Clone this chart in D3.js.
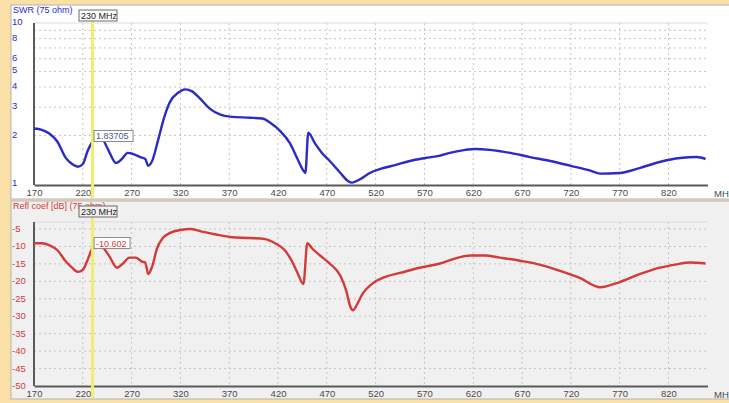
<!DOCTYPE html>
<html>
<head>
<meta charset="utf-8">
<script src="https://cdn.jsdelivr.net/npm/d3@7"></script>
<style>
  html, body { margin: 0; padding: 0; background: #fadfa6; }
  svg { display: block; }
  text { font-family: "Liberation Sans", Arial, sans-serif; }
</style>
</head>
<body>
<svg id="chart" width="729" height="403"></svg>
<script>
// Frequency axis (MHz)
const freqTicks = [170, 220, 270, 320, 370, 420, 470, 520, 570, 620, 670, 720, 770, 820];

// SWR (75 ohm) sweep
const swrFreq = [170, 178, 186, 194, 202, 209, 215, 220, 225, 230, 238, 243, 248, 254, 260, 266, 271, 279, 284, 287, 291, 297, 303, 309, 318, 325, 332, 340, 350, 361, 371, 391, 404, 412, 422, 432, 440, 446, 448, 451, 458, 465, 473, 484, 492, 496, 504, 514, 525, 540, 555, 571, 586, 596, 612, 622, 637, 658, 678, 699, 719, 740, 750, 770, 791, 811, 832, 849, 858];
const swrValue = [2.21, 2.17, 2.05, 1.83, 1.47, 1.33, 1.28, 1.33, 1.61, 1.837, 2.02, 1.78, 1.54, 1.35, 1.43, 1.56, 1.54, 1.47, 1.43, 1.30, 1.39, 1.86, 2.55, 3.21, 3.70, 3.87, 3.76, 3.40, 2.94, 2.70, 2.62, 2.58, 2.55, 2.40, 2.14, 1.80, 1.43, 1.21, 1.17, 2.08, 1.78, 1.56, 1.39, 1.17, 1.04, 1.02, 1.07, 1.17, 1.24, 1.31, 1.39, 1.45, 1.50, 1.56, 1.63, 1.65, 1.63, 1.56, 1.47, 1.39, 1.30, 1.21, 1.16, 1.17, 1.26, 1.37, 1.45, 1.47, 1.43];
const swrTicks = [1, 2, 3, 4, 5, 6, 8, 10];
const swrGrid = [2, 3, 4, 5, 6, 7, 8, 9];

// Reflection coefficient sweep (dB)
const rcFreq = [170, 178, 186, 194, 202, 209, 215, 220, 225, 230, 238, 243, 248, 255, 260, 268, 274, 281, 284, 287, 291, 296, 302, 309, 320, 330, 340, 355, 371, 391, 407, 417, 427, 434, 440, 446, 450, 455, 463, 473, 484, 490, 494, 497, 501, 507, 516, 530, 545, 565, 586, 601, 617, 632, 647, 668, 688, 709, 729, 750, 770, 791, 811, 827, 842, 858];
const rcValue = [-9.1, -9.1, -9.7, -11.1, -14.1, -16.1, -17.3, -16.7, -13.8, -10.602, -9.7, -11.1, -13.2, -16.1, -15.2, -13.2, -13.2, -14.4, -14.6, -17.9, -15.8, -10.6, -7.6, -6.2, -5.3, -5.0, -5.6, -6.5, -7.3, -7.6, -7.9, -9.1, -11.1, -14.1, -17.6, -20.8, -9.1, -10.6, -12.6, -14.9, -18.5, -22.8, -27.2, -28.3, -26.6, -23.4, -20.8, -18.7, -17.6, -16.1, -14.9, -13.5, -12.6, -12.6, -13.2, -14.1, -15.2, -17.0, -19.0, -21.7, -20.2, -17.9, -16.1, -15.2, -14.6, -14.9];
const rcTicks = [-5, -10, -15, -20, -25, -30, -35, -40, -45, -50];

// Marker
const markerFreq = 230;
const markerSwr = 1.83705;
const markerRc = -10.602;
const markerLabel = "230 MHz";

const svg = d3.select("#chart");
const x = d3.scaleLinear().domain([170, 860]).range([34, 707.5]);

const axisCol = "#5a5a5a", gridCol = "#c4c4c4", tickCol = "#4a4a4a";
const blue = "#2b2bc8", red = "#d43a3a";

function panel(cfg) {
  const g = svg.append("g");
  g.append("rect").attr("x", 11).attr("y", cfg.top).attr("width", 730).attr("height", cfg.height)
    .attr("fill", cfg.bg).attr("stroke", "#b4b4b4").attr("stroke-width", 1);

  const y = cfg.y;
  const [yTop, yBot] = [cfg.plotTop, cfg.plotBot];

  // vertical grid
  g.selectAll(".vg").data(freqTicks.slice(1)).join("line")
    .attr("x1", d => x(d)).attr("x2", d => x(d)).attr("y1", yTop).attr("y2", yBot)
    .attr("stroke", gridCol).attr("stroke-dasharray", "2,3");
  // horizontal grid
  g.selectAll(".hg").data(cfg.grid).join("line")
    .attr("x1", x(170)).attr("x2", x(860)).attr("y1", d => y(d)).attr("y2", d => y(d))
    .attr("stroke", gridCol).attr("stroke-dasharray", "2,3");
  g.append("line").attr("x1", x(170)).attr("x2", x(860)).attr("y1", yTop).attr("y2", yTop)
    .attr("stroke", "#dcdcdc");

  // axes
  const xAxis = d3.axisBottom(x).tickValues(freqTicks).tickSize(0).tickPadding(4);
  const xg = g.append("g").attr("transform", `translate(0,${yBot})`).call(xAxis);
  xg.select(".domain").attr("stroke", axisCol).attr("stroke-width", 2);
  xg.selectAll("text").attr("fill", tickCol).attr("font-size", 9.5);
  g.append("line").attr("x1", x(170)).attr("x2", x(170)).attr("y1", yTop).attr("y2", yBot)
    .attr("stroke", axisCol).attr("stroke-width", 2);

  // y tick labels
  g.selectAll(".yl").data(cfg.ticks).join("text")
    .attr("x", 12).attr("y", d => y(d) + cfg.labelDy)
    .attr("fill", cfg.color).attr("font-size", 9.5).text(d => d);

  // unit label
  g.append("text").attr("x", 714).attr("y", yBot + 12).attr("fill", tickCol)
    .attr("font-size", 9.5).text("MHz");

  // title
  g.append("text").attr("x", 13).attr("y", cfg.top + 8).attr("fill", cfg.color)
    .attr("font-size", 9).text(cfg.title);

  // curve
  const line = d3.line().x(d => x(d[0])).y(d => y(d[1])).curve(d3.curveMonotoneX);
  g.append("path").datum(d3.zip(cfg.freq, cfg.values)).attr("d", line)
    .attr("fill", "none").attr("stroke", cfg.color).attr("stroke-width", 2.4)
    .attr("stroke-linejoin", "round");

  // marker
  const mx = x(markerFreq);
  g.append("line").attr("x1", mx).attr("x2", mx).attr("y1", cfg.top + 15).attr("y2", cfg.top + cfg.height - 1)
    .attr("stroke", "#f2ee6a").attr("stroke-width", 3);
  const bx = g.append("g").attr("transform", `translate(79,${cfg.top + 5})`);
  bx.append("rect").attr("width", 38).attr("height", 11).attr("fill", cfg.bg)
    .attr("stroke", "#6a6a6a").attr("stroke-width", 1);
  bx.append("text").attr("x", 2).attr("y", 9).attr("fill", "#222").attr("font-size", 9).text(markerLabel);

  const my = y(cfg.markerValue);
  const vb = g.append("g").attr("transform", `translate(${mx + 1.5},${my - 11})`);
  vb.append("rect").attr("width", cfg.valueBoxW).attr("height", 11).attr("fill", "#fff")
    .attr("stroke", "#8a8a8a").attr("stroke-width", 1);
  vb.append("text").attr("x", 2).attr("y", 9).attr("fill", cfg.valueColor).attr("font-size", 9)
    .text(cfg.valueText);
}

// SWR panel
const ySwr = d3.scaleLog().domain([1, 10]).range([184, 23]);
panel({
  top: 5, height: 194, bg: "#ffffff", y: ySwr, plotTop: 23, plotBot: 185,
  grid: swrGrid, ticks: swrTicks, labelDy: 2, color: blue, title: "SWR (75 ohm)",
  freq: swrFreq, values: swrValue, markerValue: markerSwr,
  valueText: String(markerSwr), valueBoxW: 39, valueColor: "#4a5a8a"
});

// Reflection coefficient panel
const yRc = d3.scaleLinear().domain([-50, -3]).range([386, 222]);
panel({
  top: 201, height: 198, bg: "#f0f0f0", y: yRc, plotTop: 222, plotBot: 386,
  grid: rcTicks.slice(0, -1), ticks: rcTicks, labelDy: 3, color: red, title: "Refl coef [dB] (75 ohm)",
  freq: rcFreq, values: rcValue, markerValue: markerRc,
  valueText: String(markerRc), valueBoxW: 36, valueColor: red
});
</script>
</body>
</html>
